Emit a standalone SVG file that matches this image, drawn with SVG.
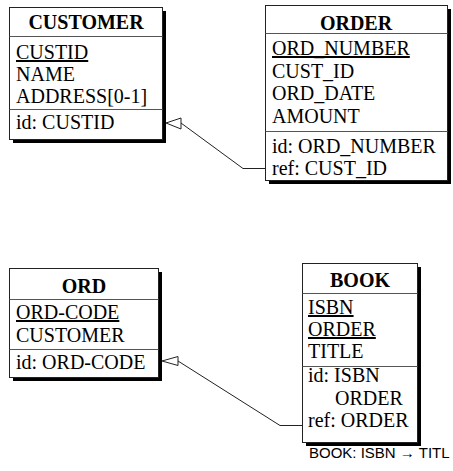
<svg xmlns="http://www.w3.org/2000/svg" width="453" height="471" viewBox="0 0 453 471">
<style>
.bg{fill:#fff}
.shadow{fill:#000}
.box{fill:#fff;stroke:#222;stroke-width:1}
.div{stroke:#555;stroke-width:1}
.t{font-family:"Liberation Serif","Times New Roman",serif;font-size:20px;fill:#000}
.h{font-weight:bold;text-anchor:middle}
.u{text-decoration:underline}
.con{fill:none;stroke:#222;stroke-width:1}
.arr{fill:#fff;stroke:#222;stroke-width:1}
.foot{font-family:"Liberation Sans",Arial,sans-serif;font-size:15px;fill:#000}
</style>
<rect class="bg" x="0" y="0" width="453" height="471"/>
<g id="customer">
<rect class="shadow" x="13" y="11" width="153" height="132"/>
<rect class="box" x="9.5" y="7.5" width="153" height="132"/>
<line class="div" x1="9.5" y1="36.5" x2="162.5" y2="36.5"/>
<line class="div" x1="9.5" y1="109.5" x2="162.5" y2="109.5"/>
<text class="t h" x="86" y="29">CUSTOMER</text>
<text class="t u" x="16" y="59">CUSTID</text>
<text class="t" x="16" y="81">NAME</text>
<text class="t" x="16" y="103">ADDRESS[0-1]</text>
<text class="t" x="16" y="129">id: CUSTID</text>
</g>
<g id="order">
<rect class="shadow" x="269" y="9" width="182" height="175"/>
<rect class="box" x="265.5" y="5.5" width="182" height="175"/>
<line class="div" x1="265.5" y1="33.5" x2="447.5" y2="33.5"/>
<line class="div" x1="265.5" y1="131.5" x2="447.5" y2="131.5"/>
<text class="t h" x="356" y="30">ORDER</text>
<text class="t u" x="272" y="55">ORD_NUMBER</text>
<text class="t" x="272" y="77.5">CUST_ID</text>
<text class="t" x="272" y="100">ORD_DATE</text>
<text class="t" x="272" y="123">AMOUNT</text>
<text class="t" x="272" y="153">id: ORD_NUMBER</text>
<text class="t" x="272" y="175">ref: CUST_ID</text>
</g>
<g id="ord">
<rect class="shadow" x="13" y="272" width="149" height="109"/>
<rect class="box" x="9.5" y="268.5" width="149" height="109"/>
<line class="div" x1="9.5" y1="299.5" x2="158.5" y2="299.5"/>
<line class="div" x1="9.5" y1="349.5" x2="158.5" y2="349.5"/>
<text class="t h" x="84" y="293">ORD</text>
<text class="t u" x="16" y="319">ORD-CODE</text>
<text class="t" x="16" y="342">CUSTOMER</text>
<text class="t" x="16" y="368.5">id: ORD-CODE</text>
</g>
<g id="book">
<rect class="shadow" x="306" y="267" width="115" height="179"/>
<rect class="box" x="302.5" y="263.5" width="115" height="179"/>
<line class="div" x1="302.5" y1="293.5" x2="417.5" y2="293.5"/>
<line class="div" x1="302.5" y1="366.5" x2="417.5" y2="366.5"/>
<text class="t h" x="360" y="287">BOOK</text>
<text class="t u" x="308" y="314">ISBN</text>
<text class="t u" x="308" y="336">ORDER</text>
<text class="t" x="308" y="358">TITLE</text>
<text class="t" x="308" y="382">id: ISBN</text>
<text class="t" x="335" y="405">ORDER</text>
<text class="t" x="308" y="427">ref: ORDER</text>
</g>
<g id="connectors">
<polyline class="con" points="181,123 243,168.5 265,168.5"/>
<polygon class="arr" points="166,123 181,118 181,129"/>
<polyline class="con" points="178,361 280,425.5 302,425.5"/>
<polygon class="arr" points="162,361 178,356.5 178,365.5"/>
</g>
<text class="foot" x="309" y="458">BOOK: ISBN → TITL</text>
</svg>
